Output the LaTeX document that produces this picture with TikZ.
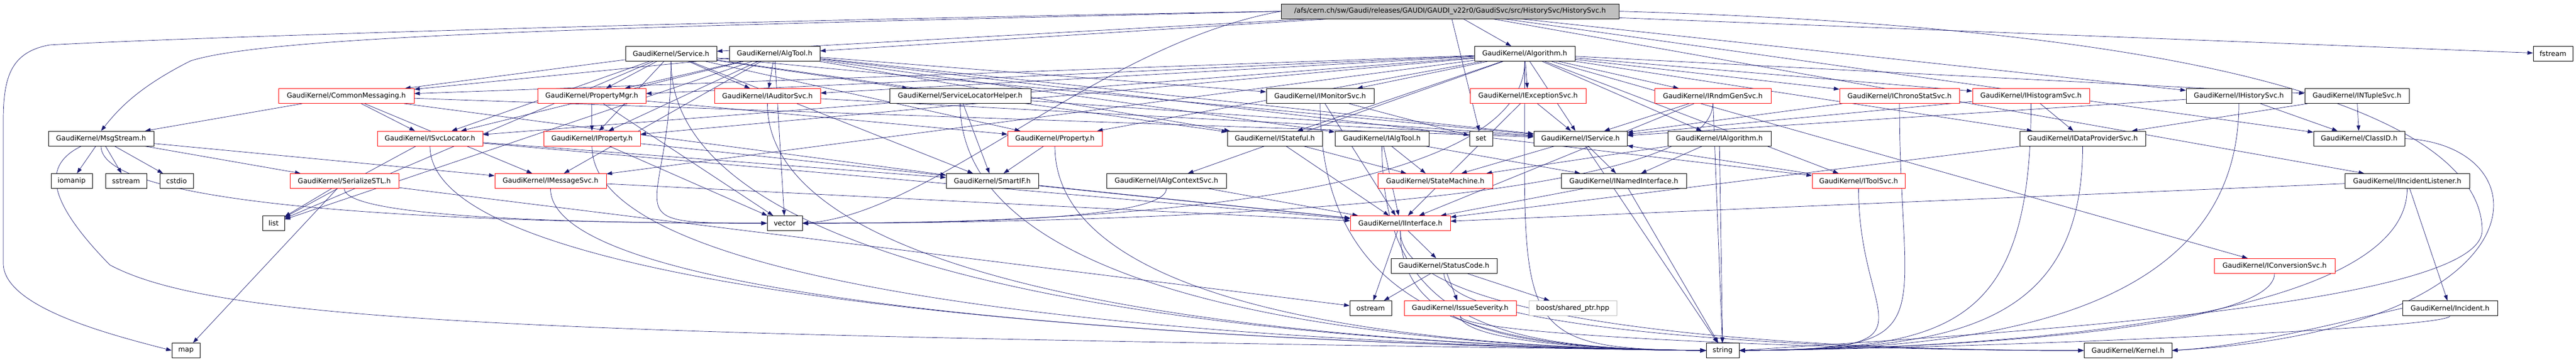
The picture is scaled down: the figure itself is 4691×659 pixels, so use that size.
\documentclass[tikz,border=0pt]{standalone}
\usepackage{fontspec}
\setmainfont{DejaVu Sans}
\usetikzlibrary{arrows.meta,backgrounds}
\definecolor{edgec}{RGB}{25,25,112}
\definecolor{mgray}{RGB}{191,191,191}
\begin{document}
\begin{tikzpicture}[x=1pt,y=-1pt,
 box/.style={draw=black, line width=0.9pt, minimum height=27pt, inner sep=0pt, font=\fontsize{12.6}{14}\selectfont, fill=white},
 rbox/.style={box, draw=red},
 gbox/.style={box, draw=mgray},
 edge/.style={draw=edgec, line width=0.7pt, -{Triangle[length=10pt,width=7pt]}},
]
\useasboundingbox (0,0) rectangle (4691,659);
% row 0
\node[box, fill=mgray, minimum width=615pt] (M) at (2640.5,20.6) {/afs/cern.ch/sw/Gaudi/releases/GAUDI/GAUDI\_v22r0/GaudiSvc/src/HistorySvc/HistorySvc.h};
% row 1
\node[box, minimum width=166pt] (Service) at (1222,98) {GaudiKernel/Service.h};
\node[box, minimum width=165pt] (AlgTool) at (1410.5,98) {GaudiKernel/AlgTool.h};
\node[box, minimum width=183pt] (Algorithm) at (2776.5,98) {GaudiKernel/Algorithm.h};
\node[box, minimum width=72pt] (fstream) at (4649,98) {fstream};
% row 2
\node[rbox, minimum width=247pt] (CommonMessaging) at (630.5,175) {GaudiKernel/CommonMessaging.h};
\node[rbox, minimum width=197pt] (PropertyMgr) at (1077.5,175) {GaudiKernel/PropertyMgr.h};
\node[rbox, minimum width=193pt] (IAuditorSvc) at (1397.5,175) {GaudiKernel/IAuditorSvc.h};
\node[box, minimum width=257pt] (ServiceLocatorHelper) at (1748.5,175) {GaudiKernel/ServiceLocatorHelper.h};
\node[box, minimum width=196pt] (IMonitorSvc) at (2404,175) {GaudiKernel/IMonitorSvc.h};
\node[rbox, minimum width=211pt] (IExceptionSvc) at (2782.5,175) {GaudiKernel/IExceptionSvc.h};
\node[rbox, minimum width=212pt] (IRndmGenSvc) at (3119,175) {GaudiKernel/IRndmGenSvc.h};
\node[rbox, minimum width=218pt] (IChronoStatSvc) at (3459,175) {GaudiKernel/IChronoStatSvc.h};
\node[rbox, minimum width=213pt] (IHistogramSvc) at (3698.5,175) {GaudiKernel/IHistogramSvc.h};
\node[box, minimum width=192pt] (IHistorySvc) at (4077,175) {GaudiKernel/IHistorySvc.h};
\node[box, minimum width=190pt] (INTupleSvc) at (4292,175) {GaudiKernel/INTupleSvc.h};
% row 3
\node[box, minimum width=192pt] (MsgStream) at (184,252.6) {GaudiKernel/MsgStream.h};
\node[rbox, minimum width=192pt] (ISvcLocator) at (783,252.6) {GaudiKernel/ISvcLocator.h};
\node[rbox, minimum width=176pt] (IProperty) at (1078,252.6) {GaudiKernel/IProperty.h};
\node[rbox, minimum width=172pt] (Property) at (1921,252.6) {GaudiKernel/Property.h};
\node[box, minimum width=173pt] (IStateful) at (2321.5,252.6) {GaudiKernel/IStateful.h};
\node[box, minimum width=171pt] (IAlgTool) at (2516.5,252.6) {GaudiKernel/IAlgTool.h};
\node[box, minimum width=42pt] (set) at (2697,252.6) {set};
\node[box, minimum width=170pt] (IService) at (2878,252.6) {GaudiKernel/IService.h};
\node[box, minimum width=188pt] (IAlgorithm) at (3131,252.6) {GaudiKernel/IAlgorithm.h};
\node[box, minimum width=229pt] (IDataProviderSvc) at (3792.5,252.6) {GaudiKernel/IDataProviderSvc.h};
\node[box, minimum width=166pt] (ClassID) at (4296,252.6) {GaudiKernel/ClassID.h};
% row 4
\node[box, minimum width=75pt] (iomanip) at (130.5,330) {iomanip};
\node[box, minimum width=75pt] (sstream) at (229.5,330) {sstream};
\node[box, minimum width=61pt] (cstdio) at (321.5,330) {cstdio};
\node[rbox, minimum width=198pt] (SerializeSTL) at (627,330) {GaudiKernel/SerializeSTL.h};
\node[rbox, minimum width=203pt] (IMessageSvc) at (1002.5,330) {GaudiKernel/IMessageSvc.h};
\node[box, minimum width=168pt] (SmartIF) at (1807,330) {GaudiKernel/SmartIF.h};
\node[box, minimum width=218pt] (IAlgContextSvc) at (2124,330) {GaudiKernel/IAlgContextSvc.h};
\node[rbox, minimum width=209pt] (StateMachine) at (2613.5,330) {GaudiKernel/StateMachine.h};
\node[box, minimum width=228pt] (INamedInterface) at (2957,330) {GaudiKernel/INamedInterface.h};
\node[rbox, minimum width=169pt] (IToolSvc) at (3384.5,330) {GaudiKernel/IToolSvc.h};
\node[box, minimum width=227pt] (IIncidentListener) at (4383.5,330) {GaudiKernel/IIncidentListener.h};
% row 5
\node[box, minimum width=40pt] (list) at (498,407) {list};
\node[box, minimum width=64pt] (vector) at (1429,407) {vector};
\node[rbox, minimum width=182pt] (IInterface) at (2550,407) {GaudiKernel/IInterface.h};
% row 6
\node[box, minimum width=193pt] (StatusCode) at (2629.5,484.7) {GaudiKernel/StatusCode.h};
\node[rbox, minimum width=220pt] (IConversionSvc) at (4142,484.7) {GaudiKernel/IConversionSvc.h};
% row 7
\node[box, minimum width=76pt] (ostream) at (2496,562) {ostream};
\node[rbox, minimum width=204pt] (IssueSeverity) at (2659,562) {GaudiKernel/IssueSeverity.h};
\node[gbox, minimum width=160pt] (boost) at (2864,562) {boost/shared\_ptr.hpp};
\node[box, minimum width=173pt] (Incident) at (4461.5,562) {GaudiKernel/Incident.h};
% row 8
\node[box, minimum width=51pt] (map) at (338.5,639) {map};
\node[box, minimum width=60pt] (string) at (3137,639) {string};
\node[box, minimum width=160pt] (Kernel) at (3875,639) {GaudiKernel/Kernel.h};

\begin{scope}[on background layer]
% straight edges
\foreach \a/\b in {M/Service, M/AlgTool, M/Algorithm, M/set, M/fstream, M/IHistorySvc, M/ClassID, M/IIncidentListener,
 Service/CommonMessaging, Service/PropertyMgr, Service/IAuditorSvc, Service/ISvcLocator, Service/IProperty, Service/ServiceLocatorHelper, Service/IService, Service/IStateful, Service/Property, Service/SmartIF, Service/list,
 AlgTool/IAlgTool, AlgTool/IProperty, AlgTool/IService, AlgTool/ISvcLocator, AlgTool/IMessageSvc, AlgTool/IToolSvc, AlgTool/PropertyMgr, AlgTool/IAuditorSvc, AlgTool/IMonitorSvc, AlgTool/IStateful, AlgTool/CommonMessaging, AlgTool/vector, AlgTool/list,
 Algorithm/IProperty, Algorithm/IAlgorithm, Algorithm/IService, Algorithm/IStateful, Algorithm/PropertyMgr, Algorithm/ISvcLocator, Algorithm/IMessageSvc, Algorithm/IMonitorSvc, Algorithm/Property, Algorithm/IAuditorSvc, Algorithm/IChronoStatSvc, Algorithm/IDataProviderSvc, Algorithm/IHistogramSvc, Algorithm/IConversionSvc, Algorithm/IExceptionSvc, Algorithm/IAlgContextSvc, Algorithm/INTupleSvc, Algorithm/IRndmGenSvc, Algorithm/IToolSvc, Algorithm/CommonMessaging,
 CommonMessaging/MsgStream, CommonMessaging/IMessageSvc, CommonMessaging/ISvcLocator, CommonMessaging/SmartIF, CommonMessaging/IService,
 MsgStream/iomanip, MsgStream/sstream, MsgStream/cstdio, MsgStream/IMessageSvc, MsgStream/SerializeSTL,
 SerializeSTL/list, SerializeSTL/map, SerializeSTL/ostream,
 ISvcLocator/IInterface, ISvcLocator/SmartIF, ISvcLocator/list,
 PropertyMgr/IProperty, PropertyMgr/Property, PropertyMgr/vector,
 IProperty/IInterface, IProperty/vector,
 IMessageSvc/IInterface,
 IAuditorSvc/IService,
 ServiceLocatorHelper/SmartIF, ServiceLocatorHelper/IService,
 Property/SmartIF,
 SmartIF/IInterface,
 IAlgContextSvc/IInterface,
 IStateful/IInterface, IStateful/StateMachine,
 IMonitorSvc/IInterface, IMonitorSvc/set,
 IAlgTool/IInterface, IAlgTool/StateMachine, IAlgTool/INamedInterface,
 IService/INamedInterface, IService/StateMachine, IService/string,
 IExceptionSvc/IInterface, IExceptionSvc/IService,
 IRndmGenSvc/IService, IRndmGenSvc/IInterface, IRndmGenSvc/string,
 IAlgorithm/INamedInterface, IAlgorithm/StateMachine, IAlgorithm/string,
 IChronoStatSvc/IService,
 IHistogramSvc/IDataProviderSvc, IHistogramSvc/IService,
 IDataProviderSvc/IInterface,
 IToolSvc/IService,
 IHistorySvc/IService, IHistorySvc/ClassID,
 INTupleSvc/IDataProviderSvc, INTupleSvc/ClassID,
 IIncidentListener/IInterface, IIncidentListener/Incident,
 INamedInterface/IInterface, INamedInterface/string,
 IInterface/StatusCode, IInterface/ostream,
 StatusCode/ostream, StatusCode/IssueSeverity, StatusCode/boost}
 \draw[edge] (\a) -- (\b);
% curved edges arriving at string from the left
\foreach \a in {Service, Algorithm, ISvcLocator, IProperty, IMessageSvc, IAuditorSvc, ServiceLocatorHelper, Property, IMonitorSvc, IAlgTool, IssueSeverity, IInterface}
 \draw[edge] (\a.south) .. controls (\a.south |- 0,600) and (2750,636) .. (string.west);
% curved edges arriving at string from the right
\foreach \a in {IChronoStatSvc, IHistogramSvc, IDataProviderSvc, IToolSvc, IHistorySvc, IIncidentListener, Incident, IConversionSvc}
 \draw[edge] (\a.south) .. controls (\a.south |- 0,600) and (3550,636) .. (string.east);
\draw[edge] (M.east) .. controls (4350,60) and (4520,300) .. (4520,420) .. controls (4520,560) and (3600,610) .. (string.east);
% Kernel
\foreach \a in {IInterface, StatusCode, IssueSeverity}
 \draw[edge] (\a.south) .. controls (\a.south |- 0,615) and (3450,640) .. (Kernel.west);
\draw[edge] (ClassID.east) .. controls (4640,265) and (4640,600) .. (Kernel.east);
\draw[edge] (Incident.west) .. controls (4250,590) and (4100,630) .. (Kernel.east);
% vector
\foreach \a in {MsgStream, SerializeSTL, Service}
 \draw[edge] (\a.south) .. controls (\a.south |- 0,400) and (1100,407) .. (vector.west);
\foreach \a in {Algorithm, IRndmGenSvc, IAlgContextSvc}
 \draw[edge] (\a.south) .. controls (\a.south |- 0,400) and (1750,407) .. (vector.east);
\draw[edge] (M.west) .. controls (2000,80) and (1700,390) .. (vector.east);
% long loops on the left
\draw[edge] (M.west) .. controls (1200,40) and (300,70) .. (90,82) .. controls (20,95) and (6,140) .. (6,220) -- (6,480) .. controls (6,560) and (200,610) .. (map.west);
\draw[edge] (M.west) .. controls (1200,48) and (500,62) .. (347,111) .. controls (250,160) and (215,200) .. (MsgStream.north);
\draw[edge] ([xshift=-36pt]MsgStream.south) .. controls (80,300) and (80,360) .. (200,483) .. controls (400,590) and (1000,610) .. (string.west);
\end{scope}
\end{tikzpicture}
\end{document}
